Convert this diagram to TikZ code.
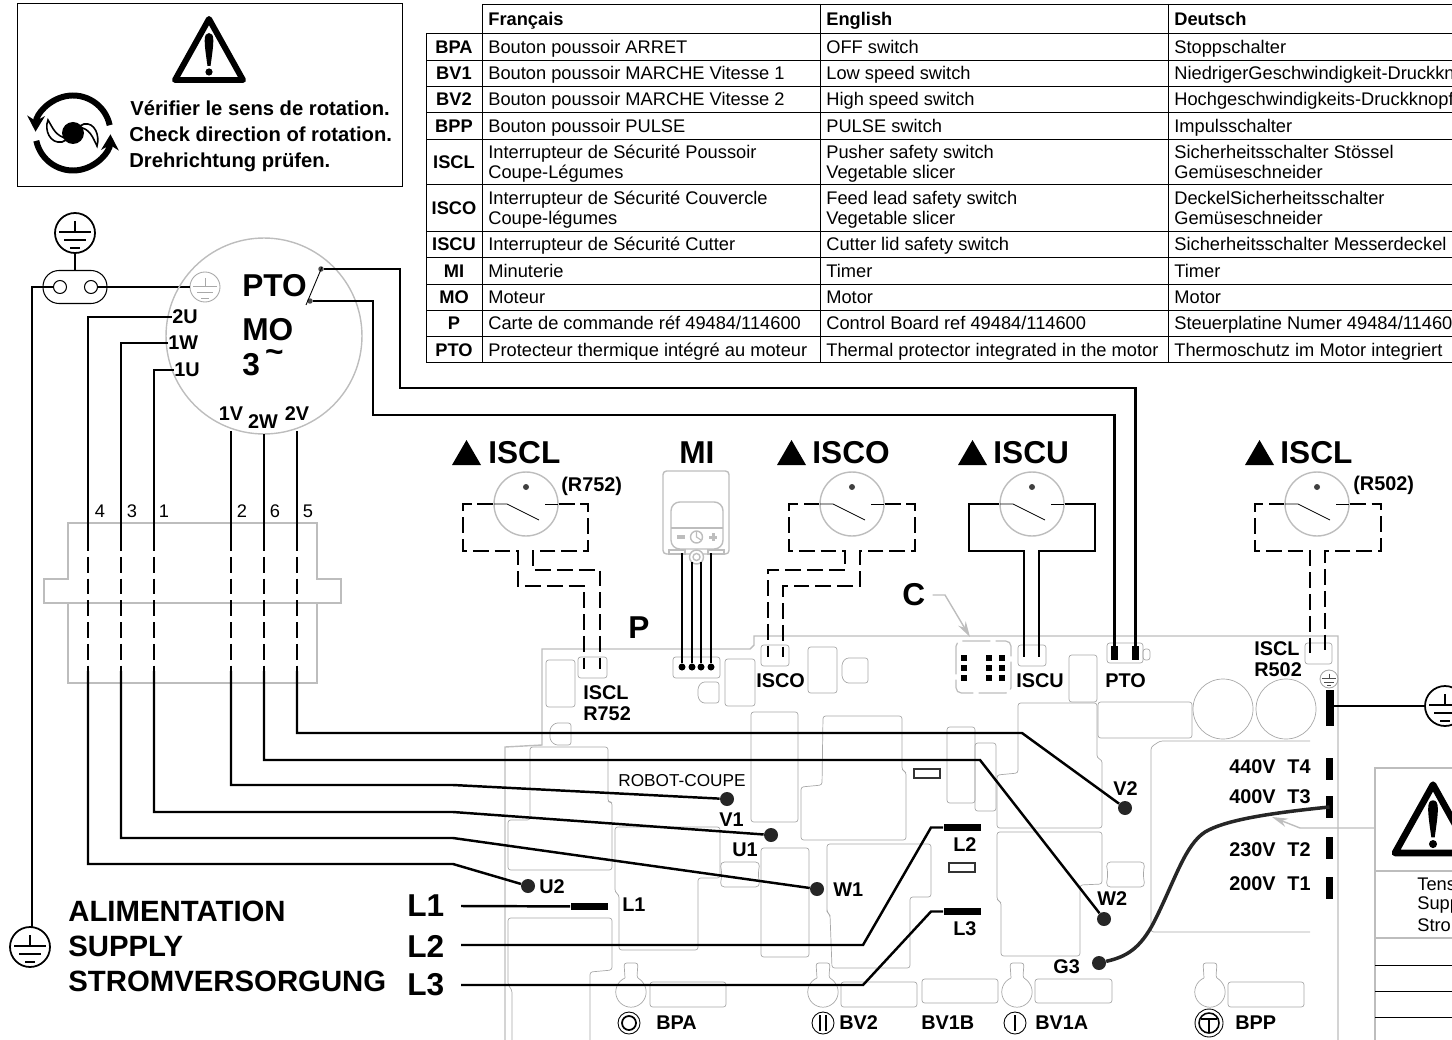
\documentclass[tikz,border=0pt]{standalone}
\usepackage{fontspec}
\setmainfont{Liberation Sans}
\usetikzlibrary{arrows.meta,positioning,shapes.geometric}

\definecolor{pcbgrey}{gray}{0.66}
\definecolor{framegrey}{gray}{0.74}

\tikzset{
  wire/.style={line width=1.4pt,black,line join=miter},
  dashwire/.style={wire,dash pattern=on 9pt off 3.4pt},
  thinline/.style={line width=0.5pt,black},
  frameline/.style={line width=0.8pt,framegrey},
  pcbline/.style={line width=0.4pt,pcbgrey,rounded corners=1.5pt},
  termdot/.style={circle,fill=black!85,inner sep=0pt,minimum size=0.28cm},
  termbar/.style={rectangle,fill=black,inner sep=0pt},
  tabtext/.style={anchor=west,inner sep=0pt,align=left,font=\fontsize{10.4}{11.4}\selectfont},
  tabtag/.style={inner sep=0pt,font=\bfseries\fontsize{10.4}{11.4}\selectfont},
  tabhead/.style={tabtext,text height=9.8pt,text depth=2.4pt,font=\bfseries\fontsize{10.4}{11.4}\selectfont},
  lbl/.style={anchor=west,inner sep=0pt,align=left,font=\bfseries\fontsize{11.3}{11.4}\selectfont},
  lblc/.style={lbl,anchor=center},
  biglbl/.style={anchor=west,inner sep=0pt,font=\bfseries\fontsize{18}{20}\selectfont},
  supply/.style={anchor=west,inner sep=0pt,font=\bfseries\fontsize{16.7}{20}\selectfont},
  wirenum/.style={inner sep=0pt,font=\fontsize{10.4}{12}\selectfont},
  warntext/.style={anchor=west,inner sep=0pt,text height=10.8pt,text depth=2.6pt,font=\bfseries\fontsize{11.5}{13}\selectfont},
  swcircle/.style={circle,draw=framegrey,line width=0.8pt,inner sep=0pt,minimum size=1.28cm},
  earthring/.style={circle,draw,inner sep=0pt},
  btnring/.style={circle,draw,line width=0.5pt,inner sep=0pt,minimum size=0.44cm},
  warntri/.pic={
    \draw[line join=round] (0,-61) -- (-34,0) -- (34,0) -- cycle;
    \fill (0,-47) .. controls (-6,-47) and (-5,-38) .. (-1.5,-14) -- (1.5,-14) .. controls (5,-38) and (6,-47) .. (0,-47) -- cycle;
    \fill (0,-8) circle (3.6);
  },
  earthlines/.pic={
    \draw (0,-12) -- (0,-1);
    \draw (-16,-1) -- (16,-1);
    \draw (-11,7) -- (11,7);
    \draw (-5,15) -- (5,15);
  },
  switchlines/.pic={
    \fill[black!75] (0,-17) circle (3);
    \draw[thinline] (-32,0) -- (-19,0) -- (13,16);
    \draw[thinline] (19,0) -- (32,0);
  },
  keyhole/.pic={
    \draw[pcbline] (-6,-14) arc (247:-67:15.2) -- (7,-29) -- (-7,-29) -- (-6,-14);
  }
}

\newcommand{\tabS}{\rule{0pt}{9.8pt}}
\newcommand{\tabE}{\rule[-2.4pt]{0pt}{0pt}}
\newcommand{\tablerow}[6]{
  \node[tabtag] (tag#1) at (454,#2) {#3};
  \node[tabtext] (fr#1) at (488,#2) {\tabS#4\tabE};
  \node[tabtext] (en#1) at (826,#2) {\tabS#5\tabE};
  \node[tabtext] (de#1) at (1174,#2) {\tabS#6\tabE};
}

\begin{document}
\begin{tikzpicture}[x=0.02cm,y=-0.02cm]
  \useasboundingbox (0,0) rectangle (1452,1040);

  % notice box
  \draw[line width=0.55pt] (17,3) rectangle (402,186);
  \pic[line width=3.4pt] at (209,80) {warntri};
  \node[warntext] (noticeA) at (130,108) {Vérifier le sens de rotation.};
  \node[warntext] (noticeB) at (129,134) {Check direction of rotation.};
  \node[warntext] (noticeC) at (129,160) {Drehrichtung prüfen.};
  \draw[line width=3.4pt,-{Stealth[length=9pt,width=10pt]}] (73,133) ++(-12:37.5) arc (-12:-178:37.5);
  \draw[line width=3.4pt,-{Stealth[length=9pt,width=10pt]}] (73,133) ++(168:37.5) arc (168:2:37.5);
  \draw[fill=white,line width=0.9pt] (68,139) .. controls (55,136) and (53,128) .. (48,120) .. controls (44,130) and (50,144) .. (62,142) -- cycle;
  \draw[fill=white,line width=0.9pt] (78,127) .. controls (90,128) and (93,138) .. (97,146) .. controls (100,136) and (95,122) .. (84,124) -- cycle;
  \fill (73,133) circle (11);

  % table
  \draw[thinline] (482,4) -- (1452,4);
  \foreach \y in {33,60,86,112,139,184,231,257,284,310,336,362}
    \draw[thinline] (426,\y) -- (1452,\y);
  \draw[thinline] (426,33) -- (426,362);
  \foreach \x in {482,820,1168}
    \draw[thinline] (\x,4) -- (\x,362);
  \node[tabhead] (hFr) at (488,19) {Français};
  \node[tabhead] (hEn) at (826,19) {English};
  \node[tabhead] (hDe) at (1174,19) {Deutsch};
  \tablerow{a}{47}{BPA}{Bouton poussoir ARRET}{OFF switch}{Stoppschalter}
  \tablerow{b}{73}{BV1}{Bouton poussoir MARCHE Vitesse 1}{Low speed switch}{NiedrigerGeschwindigkeit-Druckkn}
  \tablerow{c}{99}{BV2}{Bouton poussoir MARCHE Vitesse 2}{High speed switch}{Hochgeschwindigkeits-Druckknopf}
  \tablerow{d}{126}{BPP}{Bouton poussoir PULSE}{PULSE switch}{Impulsschalter}
  \tablerow{e}{162}{ISCL}{Interrupteur de Sécurité Poussoir\\Coupe-Légumes}{Pusher safety switch\\Vegetable slicer}{Sicherheitsschalter Stössel\\Gemüseschneider}
  \tablerow{f}{208}{ISCO}{Interrupteur de Sécurité Couvercle\\Coupe-légumes}{Feed lead safety switch\\Vegetable slicer}{DeckelSicherheitsschalter\\Gemüseschneider}
  \tablerow{g}{244}{ISCU}{Interrupteur de Sécurité Cutter}{Cutter lid safety switch}{Sicherheitsschalter Messerdeckel}
  \tablerow{h}{271}{MI}{Minuterie}{Timer}{Timer}
  \tablerow{i}{297}{MO}{Moteur}{Motor}{Motor}
  \tablerow{j}{323}{P}{Carte de commande réf 49484/114600}{Control Board ref 49484/114600}{Steuerplatine Numer 49484/11460}
  \tablerow{k}{350}{PTO}{Protecteur thermique intégré au moteur}{Thermal protector integrated in the motor}{Thermoschutz im Motor integriert}

  % board outline and parts
  \draw[frameline] (505,1040) -- (505,747) -- (542,745) -- (542,649) -- (750,649) -- (754,645) -- (754,636) -- (1338,636) -- (1338,1040);
  \draw[pcbline] (546,660) rectangle (575,707);
  \draw[pcbline] (725,659) rectangle (755,706);
  \draw[pcbline] (808,647) rectangle (837,693);
  \draw[pcbline] (1069,655) rectangle (1097,702);
  \draw[pcbline] (1098,702) rectangle (1192,738);
  \draw[pcbline] (751,712) rectangle (798,822);
  \draw[pcbline] (947,727) rectangle (975,803);
  \draw[pcbline] (975,743) rectangle (996,811);
  \draw[pcbline] (761,848) rectangle (809,957);
  \draw[pcbline] (578,657) rectangle (607,678);
  \draw[pcbline] (673,657) rectangle (720,678);
  \draw[pcbline] (761,645) rectangle (789,666);
  \draw[pcbline] (1018,645) rectangle (1046,666);
  \draw[pcbline] (1107,643) rectangle (1143,663);
  \draw[pcbline] (1143,649) rectangle (1150,660);
  \draw[pcbline] (1305,643) rectangle (1332,664);
  \draw[pcbline] (650,982) rectangle (726,1007);
  \draw[pcbline] (841,982) rectangle (917,1007);
  \draw[pcbline] (922,979) rectangle (998,1003);
  \draw[pcbline] (1035,979) rectangle (1112,1003);
  \draw[pcbline] (1228,982) rectangle (1304,1007);
  \draw[pcbline] (702,682) -- (719,682) -- (719,703) -- (702,703) -- (698,698) -- (698,687) -- cycle;
  \draw[pcbline] (846,658) -- (868,658) -- (868,683) -- (846,683) -- (842,678) -- (842,663) -- cycle;
  \draw[pcbline] (555,723) -- (571,723) -- (571,745) -- (555,745) -- (550,740) -- (550,728) -- cycle;
  \draw[pcbline] (823,716) -- (902,716) -- (902,770) -- (906,772) -- (906,840) -- (801,840) -- (801,787) -- (822,785) -- cycle;
  \draw[pcbline] (530,747) -- (608,747) -- (608,802) -- (612,802) -- (612,870) -- (508,870) -- (508,820) -- (530,820) -- cycle;
  \draw[pcbline] (615,827) -- (720,827) -- (720,878) -- (698,878) -- (698,950) -- (619,950) -- (619,895) -- (615,892) -- cycle;
  \draw[pcbline] (827,844) -- (931,844) -- (931,897) -- (910,897) -- (910,968) -- (832,968) -- (830,915) -- (827,912) -- cycle;
  \draw[pcbline] (1018,703) -- (1097,703) -- (1097,758) -- (1102,760) -- (1102,828) -- (997,828) -- (997,775) -- (1018,773) -- cycle;
  \draw[pcbline] (997,832) -- (1102,832) -- (1102,884) -- (1080,885) -- (1080,956) -- (1001,956) -- (1001,902) -- (997,900) -- cycle;
  \draw[pcbline] (590,1040) -- (590,972) -- (612,970) -- (612,918) -- (508,918) -- (508,985) -- (512,990) -- (512,1040);
  \draw[pcbline] (1310,741) -- (1160,741) -- (1151,747) -- (1151,932) -- (1310,932);
  \draw[pcbline,rounded corners=2.5pt] (720,862) -- (760,862) -- (758,874) -- (760,887) -- (720,887) -- (722,874) -- cycle;
  \draw[pcbline,rounded corners=2.5pt] (1106,862) -- (1145,862) -- (1143,874) -- (1145,887) -- (1106,887) -- (1108,874) -- cycle;
  \draw[pcbline] (1223,709) circle (30);
  \draw[pcbline] (1286,709) circle (30);
  \foreach \x in {631,823,1017,1210}
    \pic at (\x,992) {keyhole};
  \draw[line width=0.7pt,black!80,fill=white] (914,769) rectangle (940,778);
  \draw[line width=0.7pt,black!80,fill=white] (949,863) rectangle (975,872);

  % connector block on the wires
  \draw[frameline] (68,579) -- (68,523) -- (317,523) -- (317,579) -- (341,579) -- (341,603) -- (44,603) -- (44,579) -- cycle;
  \draw[frameline] (68,603) -- (68,683) -- (317,683) -- (317,603);

  % earth points
  \node[earthring,line width=1pt,minimum size=0.8cm] (earthTop) at (75,233) {};
  \pic[line width=1pt] at (75,233) {earthlines};
  \node[earthring,line width=1pt,minimum size=0.8cm] (earthSupply) at (30,947) {};
  \pic[line width=1pt] at (30,947) {earthlines};
  \node[earthring,line width=1pt,minimum size=0.8cm] (earthRight) at (1445,706) {};
  \pic[line width=1pt] at (1445,706) {earthlines};
  \node[earthring,draw=pcbgrey,line width=0.5pt,minimum size=0.6cm] (earthMotor) at (205,287) {};
  \pic[line width=0.5pt,pcbgrey,scale=0.75] at (205,287) {earthlines};
  \node[earthring,draw=pcbgrey,line width=0.5pt,minimum size=0.36cm] (earthBoard) at (1329,679) {};
  \pic[line width=0.4pt,black!70,scale=0.45] at (1329,679) {earthlines};
  \node[draw,line width=0.6pt,rounded corners=0.32cm,minimum width=1.28cm,minimum height=0.66cm,inner sep=0pt] (lug) at (75,287) {};
  \node[circle,draw,line width=0.6pt,inner sep=0pt,minimum size=0.26cm] (lugL) at (60,287) {};
  \node[circle,draw,line width=0.6pt,inner sep=0pt,minimum size=0.26cm] (lugR) at (91,287) {};
  \draw[wire] (earthTop) -- (lug);
  \draw[wire] (lugL.west) -| (32,927);
  \draw[wire] (lugR.east) -- (earthMotor.west);

  % motor
  \node[circle,draw=framegrey,line width=0.8pt,inner sep=0pt,minimum size=3.92cm] (MOT) at (264,336) {};
  \node[biglbl] (motPTO) at (242,286) {PTO};
  \node[biglbl] (motMO) at (242,330) {MO};
  \node[biglbl] (mot3) at (242,363) {3\,\raisebox{7.2pt}{\textasciitilde}};
  \node[lbl] (m2U) at (172,317) {2U};
  \node[lbl] (m1W) at (168,343) {1W};
  \node[lbl] (m1U) at (174,370) {1U};
  \node[lblc] (m1V) at (231,414) {1V};
  \node[lblc] (m2W) at (263,422) {2W};
  \node[lblc] (m2V) at (297,414) {2V};
  \node[circle,fill=black!70,inner sep=0pt,minimum size=0.11cm] (ptoA) at (321,269) {};
  \node[circle,fill=black!70,inner sep=0pt,minimum size=0.11cm] (ptoB) at (310,301) {};
  \draw[thinline] (322,267) -- (306,305);

  % PTO wires
  \node[termbar,minimum width=0.14cm,minimum height=0.28cm] (barA) at (1114.5,653) {};
  \node[termbar,minimum width=0.14cm,minimum height=0.28cm] (barB) at (1135.5,653) {};
  \draw[wire] (ptoA) -- (400,269) -- (400,388) -- (1135.5,388) -- (barB);
  \draw[wire] (ptoB) -- (373,301) -- (373,415) -- (1114.5,415) -- (barA);

  % motor wires
  \foreach \n/\x/\t in {4/88/100,3/121/132,1/154/164,2/231/242,6/264/275,5/297/308}{
    \coordinate (w\n a) at (\x,535);
    \coordinate (w\n b) at (\x,671);
    \draw[dashwire] (w\n a) -- (w\n b);
    \node[wirenum] (n\n) at (\t,511) {\n};
  }
  \node[termdot] (dU2) at (528,886) {};
  \node[termdot] (dV1) at (727,799) {};
  \node[termdot] (dU1) at (771,835) {};
  \node[termdot] (dW1) at (817,889) {};
  \node[termdot] (dV2) at (1125,808) {};
  \node[termdot] (dW2) at (1104,919) {};
  \node[termdot] (dG3) at (1099,963) {};
  \coordinate (top2) at (231,431);
  \coordinate (top6) at (264,434);
  \coordinate (top5) at (297,431);
  \draw[wire] (m2U.west) -| (w4a);
  \draw[wire] (m1W.west) -| (w3a);
  \draw[wire] (m1U.west) -| (w1a);
  \draw[wire] (top2) -- (w2a);
  \draw[wire] (top6) -- (w6a);
  \draw[wire] (top5) -- (w5a);
  \draw[wire] (w4b) |- (453,864) -- (dU2);
  \draw[wire] (w3b) |- (453,838) -- (dW1);
  \draw[wire] (w1b) |- (453,812) -- (dU1);
  \draw[wire] (w2b) |- (453,785) -- (dV1);
  \draw[wire] (w6b) |- (980,760) -- (dW2);
  \draw[wire] (w5b) |- (1022,733) -- (dV2);

  % switches
  \node[swcircle] (swA) at (526,504) {};
  \pic at (526,504) {switchlines};
  \draw[dashwire] (swA.west) -- (463,504) -- (463,551) -- (518,551) -- (518,586) -- (584,586) -- (584,669);
  \draw[dashwire] (swA.east) -- (588,504) -- (588,551) -- (533,551) -- (533,570) -- (600,570) -- (600,669);
  \node[swcircle] (swB) at (852,504) {};
  \pic at (852,504) {switchlines};
  \draw[dashwire] (swB.west) -- (789,504) -- (789,551) -- (845,551) -- (845,570) -- (768,570) -- (768,657);
  \draw[dashwire] (swB.east) -- (915,504) -- (915,551) -- (860,551) -- (860,586) -- (783,586) -- (783,657);
  \node[swcircle] (swC) at (1032,504) {};
  \pic at (1032,504) {switchlines};
  \draw[wire] (swC.west) -- (969,504) -- (969,551) -- (1024,551) -- (1024,657);
  \draw[wire] (swC.east) -- (1095,504) -- (1095,551) -- (1039,551) -- (1039,657);
  \node[swcircle] (swD) at (1317,504) {};
  \pic at (1317,504) {switchlines};
  \draw[dashwire] (swD.west) -- (1255,504) -- (1255,551) -- (1310,551) -- (1310,653);
  \draw[dashwire] (swD.east) -- (1381,504) -- (1381,551) -- (1325,551) -- (1325,653);
  \foreach \x in {452,777,958,1245}
    \fill (\x,465) -- (\x+14.5,440) -- (\x+29,465) -- cycle;
  \node[biglbl] (tA) at (488,453) {ISCL};
  \node[biglbl] (tB) at (812,453) {ISCO};
  \node[biglbl] (tC) at (993,453) {ISCU};
  \node[biglbl] (tD) at (1280,453) {ISCL};
  \node[biglbl] (tMI) at (679,453) {MI};
  \node[lbl] (rA) at (561,486) {(R752)};
  \node[lbl] (rD) at (1353,485) {(R502)};

  % timer
  \draw[line width=0.8pt,framegrey,rounded corners=2pt] (663,471) rectangle (729,554);
  \draw[line width=0.8pt,framegrey,rounded corners=5pt] (671,502) rectangle (723,549);
  \draw[line width=0.8pt,framegrey] (671,528) -- (723,528);
  \draw[line width=0.8pt,framegrey] (696.5,537) circle (6);
  \draw[line width=0.7pt,framegrey] (696.5,532) -- (696.5,537) -- (701,540);
  \fill[framegrey] (677,535) rectangle (685,539);
  \fill[framegrey] (709,535.5) rectangle (717,538.5);
  \fill[framegrey] (711.5,533) rectangle (714.5,541);
  \draw[line width=0.8pt,framegrey,fill=white] (669,550) rectangle (685,554);
  \draw[line width=0.8pt,framegrey,fill=white] (708,550) rectangle (724,554);
  \draw[line width=0.8pt,framegrey,fill=white] (696.5,557) circle (7);
  \draw[line width=0.8pt,framegrey] (696.5,557) circle (3.5);
  \foreach \i/\x/\ytop in {1/682/553,2/692/562,3/701/562,4/711/553}{
    \node[circle,fill=black,inner sep=0pt,minimum size=0.14cm] (mi\i) at (\x,667) {};
    \coordinate (miT\i) at (\x,\ytop);
    \draw[wire] (miT\i) -- (mi\i);
  }

  % connector C
  \draw[line width=0.7pt,framegrey,rounded corners=3pt,dash pattern=on 16pt off 3pt] (956,641) rectangle (1011,693);
  \foreach \x in {964,989,1002}
    \foreach \y in {658,668,678}
      \fill (\x-3,\y-3) rectangle (\x+3,\y+3);
  \node[biglbl] (labC) at (902,595) {C};
  \coordinate (cLead) at (945,595);
  \draw[frameline,-{Stealth[length=9pt,width=5pt]}] (labC.east) ++(7,0) -- (cLead) -- (970,637);

  % power terminals
  \node[termbar,minimum width=0.74cm,minimum height=0.14cm] (barL1) at (589,906.5) {};
  \node[termbar,minimum width=0.74cm,minimum height=0.14cm] (barL2) at (962,827.5) {};
  \node[termbar,minimum width=0.74cm,minimum height=0.14cm] (barL3) at (962,911.5) {};
  \node[biglbl] (L1) at (407,906) {L1};
  \node[biglbl] (L2) at (407,946) {L2};
  \node[biglbl] (L3) at (407,985) {L3};
  \coordinate (startL1) at (461,906);
  \coordinate (startL2) at (461,945);
  \coordinate (startL3) at (461,985);
  \draw[wire] (startL1) -- (barL1);
  \draw[wire] (startL2) -- (863,945) -- (931,827.5) -- (barL2);
  \draw[wire] (startL3) -- (863,985) -- (931,911.5) -- (barL3);
  \node[termbar,minimum width=0.14cm,minimum height=0.44cm] (barT4) at (1329.5,769) {};
  \node[termbar,minimum width=0.14cm,minimum height=0.44cm] (barT3) at (1329.5,807) {};
  \node[termbar,minimum width=0.14cm,minimum height=0.44cm] (barT2) at (1329.5,848) {};
  \node[termbar,minimum width=0.14cm,minimum height=0.44cm] (barT1) at (1329.5,888) {};
  \node[termbar,minimum width=0.15cm,minimum height=0.72cm] (barE) at (1330,708) {};
  \draw[wire] (barE.east |- earthRight.west) -- (earthRight.west);
  \draw[line width=2pt,black!85] (barT3.center) .. controls (1270,813) and (1225,820) .. (1205,832) .. controls (1185,845) and (1175,880) .. (1155,920) .. controls (1140,950) and (1125,957) .. (dG3);

  % warning label on the right
  \begin{scope}
    \clip (0,0) rectangle (1452,1040);
    \draw[frameline] (1452,768) -- (1375,768) -- (1375,1040);
    \draw[frameline] (1375,871) -- (1452,871);
    \draw[frameline] (1375,938) -- (1452,938);
    \draw[thinline] (1375,965) -- (1452,965);
    \draw[thinline] (1375,991) -- (1452,991);
    \draw[thinline] (1375,1017) -- (1452,1017);
    \pic[line width=3.8pt,scale=1.12] at (1433,853) {warntri};
  \end{scope}
  \coordinate (arrowTip) at (1272,817);
  \coordinate (arrowBend) at (1300,828);
  \coordinate (arrowStart) at (1375,828);
  \draw[frameline,-{Stealth[length=9pt,width=5pt]}] (arrowStart) -- (arrowBend) -- (arrowTip);
  \node[anchor=west,inner sep=0pt,align=left,font=\fontsize{10.4}{11.4}\selectfont] (tensA) at (1417,884) {Tens};
  \node[anchor=west,inner sep=0pt,align=left,font=\fontsize{10.4}{11.4}\selectfont] (tensB) at (1417,905) {Supp};
  \node[anchor=west,inner sep=0pt,align=left,font=\fontsize{10.4}{11.4}\selectfont] (tensC) at (1417,925) {Stro};

  % board labels
  \node[biglbl] (labP) at (628,628) {P};
  \node[lbl] (bA) at (583,693) {ISCL};
  \node[lbl] (bA2) at (583,714) {R752};
  \node[lbl] (bB) at (756,681) {ISCO};
  \node[lbl] (bC) at (1016,681) {ISCU};
  \node[lbl] (bPTO) at (1105,681) {PTO};
  \node[lbl] (bD) at (1254,649) {ISCL};
  \node[lbl] (bD2) at (1254,670) {R502};
  \node[anchor=west,inner sep=0pt,font=\fontsize{9.8}{11}\selectfont] (robot) at (618,781) {ROBOT-COUPE};
  \node[lbl] (lV1) at (719,820) {V1};
  \node[lbl] (lU1) at (732,850) {U1};
  \node[lbl] (lU2) at (539,887) {U2};
  \node[lbl] (lL1) at (622,905) {L1};
  \node[lbl] (lW1) at (833,890) {W1};
  \node[lbl] (lL2) at (953,845) {L2};
  \node[lbl] (lL3) at (953,929) {L3};
  \node[lbl] (lV2) at (1113,789) {V2};
  \node[lbl] (lW2) at (1097,899) {W2};
  \node[lbl] (lG3) at (1053,967) {G3};
  \node[lbl] (v440) at (1229,767) {440V};
  \node[lbl] (v400) at (1229,797) {400V};
  \node[lbl] (v230) at (1229,850) {230V};
  \node[lbl] (v200) at (1229,884) {200V};
  \node[lbl] (lT4) at (1287,767) {T4};
  \node[lbl] (lT3) at (1287,797) {T3};
  \node[lbl] (lT2) at (1287,850) {T2};
  \node[lbl] (lT1) at (1287,884) {T1};

  % buttons
  \node[btnring] (iBPA) at (629,1023) {};
  \node[btnring,line width=1pt,minimum size=0.28cm] (iBPAb) at (629,1023) {};
  \node[btnring] (iBV2) at (823,1023) {};
  \draw[line width=0.6pt] (820,1015) -- (820,1031);
  \draw[line width=0.6pt] (826,1015) -- (826,1031);
  \node[btnring] (iBV1) at (1015,1023) {};
  \draw[line width=0.6pt] (1015,1015) -- (1015,1031);
  \node[btnring,minimum size=0.56cm] (iBPP) at (1209,1023) {};
  \node[btnring,line width=0.9pt,minimum size=0.4cm] (iBPPb) at (1209,1023) {};
  \draw[line width=0.9pt] (1201,1019) -- (1217,1019);
  \draw[line width=0.9pt] (1209,1019) -- (1209,1032);
  \node[lbl] (lBPA) at (656,1023) {BPA};
  \node[lbl] (lBV2) at (839,1023) {BV2};
  \node[lbl] (lBV1B) at (921,1023) {BV1B};
  \node[lbl] (lBV1A) at (1035,1023) {BV1A};
  \node[lbl] (lBPP) at (1235,1023) {BPP};

  % supply
  \node[supply] (sA) at (68,911) {ALIMENTATION};
  \node[supply] (sB) at (68,946) {SUPPLY};
  \node[supply] (sC) at (68,981) {STROMVERSORGUNG};
\end{tikzpicture}
\end{document}
